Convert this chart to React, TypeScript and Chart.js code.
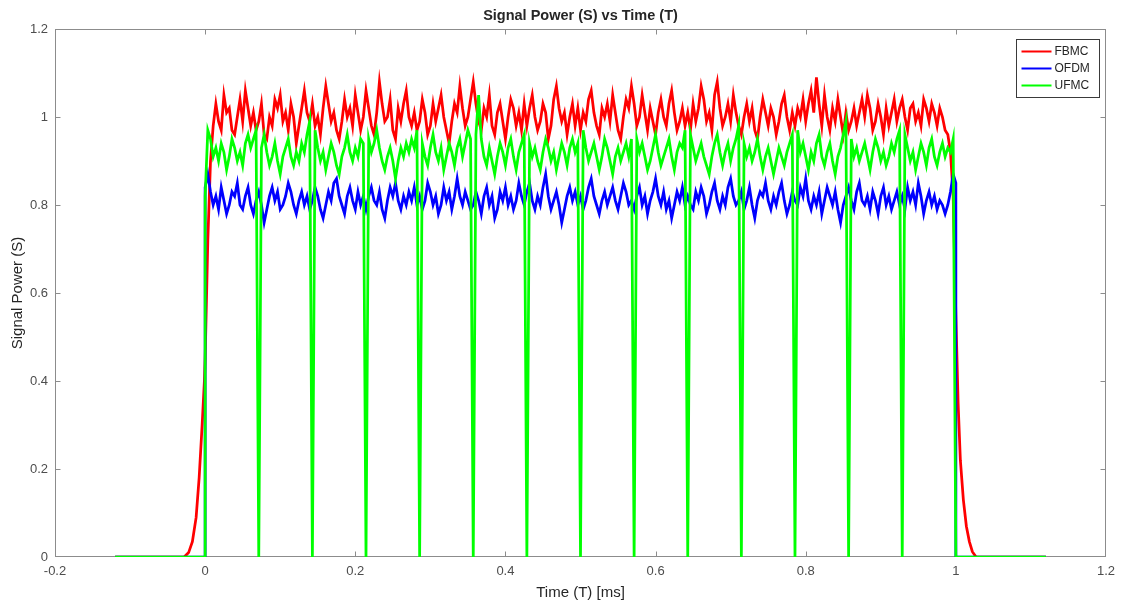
import React, { useEffect, useRef } from "react";
import { Chart, registerables } from "chart.js";

Chart.register(...registerables);

// ---------- text ----------
const chartTitle = "Signal Power (S) vs Time (T)";
const xAxisTitle = "Time (T) [ms]";
const yAxisTitle = "Signal Power (S)";
const seriesNames = ["FBMC", "OFDM", "UFMC"];
const seriesColors = ["#ff0000", "#0000ff", "#00ff00"];

// ---------- axes ----------
const xTickMin = -0.2;
const xTickMax = 1.2;
const xTickStep = 0.2;
const yTickMin = 0;
const yTickMax = 1.2;
const yTickStep = 0.2;

// ---------- sampling of the frame (0 .. 1 ms) ----------
const symbolsPerFrame = 14;
const samplesPerSymbol = 20;

// ---------- FBMC ----------
const fbmcLeadTime = [-0.12, -0.028, -0.022, -0.017, -0.012, -0.008, -0.004, -0.001];
const fbmcLeadPower = [0, 0, 0.01, 0.035, 0.09, 0.18, 0.3, 0.4];
const fbmcPower = [
  0.45, 0.72, 0.9, 0.98, 1.03, 0.99, 0.97, 1.05, 1.01, 1.02, 0.97, 0.96, 1.0, 1.04, 0.99, 1.06, 1.02, 0.98, 1.01, 0.97,
  0.99, 1.03, 0.96, 0.95, 1.0, 0.98, 1.04, 1.02, 1.05, 0.99, 1.01, 0.97, 1.03, 1.0, 0.94, 0.98, 1.02, 1.06, 1.01, 0.99,
  1.03, 0.98, 1.0, 0.96, 1.02, 1.07, 1.03, 0.99, 1.01, 0.97, 0.95, 0.99, 1.04, 1.0, 1.02, 0.98, 1.05, 1.01, 0.97, 1.0,
  1.06, 1.02, 0.98, 0.96, 1.01, 1.08, 1.03, 0.99, 1.0, 1.04, 0.97, 0.95, 1.02, 0.99, 1.03, 1.06, 1.0, 0.98, 1.01, 0.97,
  0.99, 1.04, 1.01, 0.96, 0.98, 1.03, 0.99, 1.02, 1.05, 1.0, 0.97, 0.94, 0.99, 1.03, 1.01, 1.07, 1.02, 0.98, 1.0, 1.04,
  1.08, 1.03, 0.99, 0.97, 1.02, 1.0, 1.05, 0.98, 0.96, 1.01, 1.03, 0.99, 0.95, 1.0, 1.04, 1.02, 0.98, 1.01, 0.97, 1.03,
  0.98, 1.02, 1.05, 1.0, 0.97, 0.99, 1.03, 1.01, 0.95, 0.98, 1.04, 1.07, 1.02, 0.99, 1.01, 0.96, 1.0, 1.03, 0.98, 1.02,
  0.97, 1.01, 0.99, 1.04, 1.06, 1.01, 0.98, 0.96, 1.02, 1.0, 1.03, 0.99, 1.05, 1.01, 0.97, 0.95, 1.0, 1.04, 1.02, 1.07,
  1.03, 0.98, 1.0, 1.05, 1.01, 0.97, 1.02, 0.99, 0.96, 1.01, 1.04, 1.0, 0.98, 1.03, 1.06, 1.01, 0.97, 0.99, 1.02, 0.98,
  1.01, 0.97, 1.03, 0.99, 1.02, 1.07, 1.04, 0.99, 1.01, 0.97, 1.05, 1.08, 1.02, 0.98, 1.0, 1.03, 0.99, 1.05, 1.01, 0.98,
  0.96, 1.0, 1.03, 0.99, 1.02, 0.97, 0.95, 1.0, 1.04, 1.01, 0.98, 1.02, 1.0, 0.96, 0.99, 1.03, 1.05, 1.0, 0.97, 1.01,
  0.98, 1.02, 1.0, 1.04, 0.99, 1.03, 1.06, 1.01, 1.09, 1.03, 0.98, 1.05, 1.0, 0.97, 1.02, 0.99, 1.04, 1.0, 0.96, 1.01,
  0.97, 0.99, 1.02, 0.98, 1.01, 1.04, 1.0, 1.05, 1.02, 0.97, 0.99, 1.03, 1.0, 0.96, 1.02, 0.98, 1.01, 1.04, 0.99, 1.02,
  1.04, 1.0, 0.97, 1.02, 1.03, 0.99, 1.01, 0.98, 1.04, 1.02, 0.99, 1.03, 1.01, 0.98, 1.02, 1.0, 0.97, 0.96, 0.92, 0.82,
  0.55,
];
const fbmcTailTime = [1.003, 1.006, 1.01, 1.014, 1.018, 1.022, 1.027, 1.12];
const fbmcTailPower = [0.35, 0.22, 0.13, 0.07, 0.035, 0.012, 0, 0];

// ---------- OFDM ----------
const ofdmLeadTime = [-0.12, 0];
const ofdmLeadPower = [0, 0];
const ofdmPower = [
  0.84, 0.87, 0.83, 0.8, 0.82, 0.79, 0.84, 0.81, 0.78, 0.8, 0.83, 0.82, 0.85, 0.8, 0.79, 0.82, 0.84, 0.8, 0.78, 0.81,
  0.83, 0.8, 0.76, 0.79, 0.82, 0.84, 0.81, 0.83, 0.79, 0.8, 0.82, 0.85, 0.83, 0.8, 0.78, 0.81, 0.83, 0.8, 0.82, 0.79,
  0.81, 0.84, 0.82, 0.79, 0.77, 0.8, 0.83, 0.81, 0.85, 0.86, 0.82, 0.8, 0.78, 0.82, 0.84, 0.81, 0.79, 0.83, 0.8, 0.82,
  0.79, 0.82, 0.84, 0.81, 0.8, 0.83, 0.79, 0.77, 0.81, 0.84, 0.82, 0.85, 0.81, 0.79, 0.82, 0.8, 0.83, 0.81, 0.84, 0.8,
  0.82, 0.79, 0.81, 0.85, 0.83, 0.8, 0.82, 0.78, 0.8, 0.84, 0.81, 0.83, 0.79, 0.82, 0.86, 0.82, 0.8, 0.83, 0.81, 0.79,
  0.8, 0.83, 0.81, 0.78, 0.82, 0.84, 0.8, 0.82, 0.77, 0.79, 0.83, 0.81, 0.84, 0.8, 0.82, 0.79, 0.81, 0.85, 0.82, 0.8,
  0.83, 0.85, 0.81, 0.79, 0.82, 0.8, 0.84, 0.87, 0.82, 0.79, 0.81, 0.83, 0.8, 0.76, 0.79, 0.82, 0.84, 0.81, 0.83, 0.8,
  0.82, 0.79, 0.81, 0.84, 0.86, 0.82, 0.8, 0.78, 0.81, 0.83, 0.8, 0.82, 0.84, 0.81, 0.79, 0.82, 0.85, 0.83, 0.8, 0.81,
  0.79, 0.82, 0.84, 0.8, 0.82, 0.78, 0.81, 0.83, 0.86, 0.82, 0.8, 0.83, 0.79, 0.81, 0.77, 0.8, 0.83, 0.81, 0.84, 0.8,
  0.82, 0.8, 0.79, 0.83, 0.81, 0.84, 0.82, 0.78, 0.8, 0.83, 0.85, 0.81, 0.79, 0.82, 0.8, 0.84, 0.86, 0.82, 0.8, 0.81,
  0.83, 0.79, 0.81, 0.84, 0.8, 0.77, 0.81, 0.83, 0.82, 0.85, 0.81, 0.79, 0.82, 0.8, 0.83, 0.85, 0.81, 0.78, 0.8, 0.83,
  0.81, 0.8, 0.84, 0.82, 0.86, 0.81, 0.79, 0.82, 0.8, 0.83, 0.78, 0.81, 0.84, 0.82, 0.8, 0.83, 0.79, 0.76, 0.8, 0.82,
  0.84, 0.81, 0.79, 0.83, 0.85, 0.81, 0.8, 0.82, 0.79, 0.83, 0.81, 0.78, 0.82, 0.84, 0.8, 0.82, 0.79, 0.81, 0.83, 0.8,
  0.82, 0.79, 0.84, 0.81, 0.83, 0.8, 0.85, 0.82, 0.78, 0.81, 0.83, 0.8, 0.82, 0.79, 0.81, 0.8, 0.78, 0.8, 0.83, 0.87,
  0.85,
];
const ofdmTailTime = [1.0, 1.12];
const ofdmTailPower = [0, 0];

// ---------- UFMC ----------
const ufmcLeadTime = [-0.12, 0];
const ufmcLeadPower = [0, 0];
const ufmcPower = [
  0.82, 0.97, 0.95, 0.91, 0.93, 0.9, 0.94, 0.92, 0.88, 0.91, 0.95, 0.93, 0.9, 0.92, 0.89, 0.94, 0.96, 0.93, 0.95, 0.97,
  0.0, 0.93, 0.96, 0.92, 0.89, 0.91, 0.94, 0.9, 0.87, 0.91, 0.93, 0.95, 0.91, 0.89, 0.92, 0.9, 0.94, 0.92, 0.96, 0.99,
  0.0, 0.97, 0.93, 0.9, 0.92, 0.88, 0.91, 0.94, 0.92, 0.89, 0.87, 0.91, 0.93, 0.96, 0.92, 0.9, 0.93, 0.91, 0.95, 0.94,
  0.0, 0.95, 0.92, 0.94, 0.97, 0.93, 0.9, 0.88, 0.91, 0.93, 0.9, 0.86, 0.9, 0.93, 0.91, 0.94, 0.92, 0.95, 0.93, 0.97,
  0.0, 0.94, 0.91, 0.89, 0.93, 0.96, 0.92, 0.9, 0.93, 0.88, 0.91, 0.94, 0.92, 0.89, 0.93, 0.95, 0.91, 0.94, 0.97, 0.95,
  0.0, 0.96, 1.05, 0.95, 0.91, 0.89, 0.93, 0.9, 0.87, 0.91, 0.94, 0.92, 0.89, 0.93, 0.95, 0.91, 0.88, 0.92, 0.94, 0.96,
  0.0, 0.94, 0.91, 0.93, 0.9, 0.88, 0.92, 0.95, 0.93, 0.9, 0.92, 0.88, 0.91, 0.94, 0.92, 0.89, 0.93, 0.95, 0.92, 0.94,
  0.0, 0.97, 0.93, 0.9, 0.92, 0.94, 0.91, 0.88, 0.91, 0.95, 0.93, 0.9, 0.87, 0.91, 0.93, 0.9, 0.92, 0.94, 0.91, 0.95,
  0.0, 0.95, 0.92, 0.94, 0.91, 0.88, 0.9, 0.93, 0.96, 0.92, 0.89, 0.91, 0.93, 0.95, 0.91, 0.88, 0.92, 0.94, 0.93, 0.97,
  0.0, 0.96, 0.93, 0.9, 0.92, 0.94, 0.91, 0.89, 0.87, 0.91, 0.94, 0.96, 0.92, 0.89, 0.92, 0.94, 0.9, 0.93, 0.95, 0.98,
  0.0, 0.94, 0.91, 0.93, 0.9, 0.92, 0.95, 0.91, 0.88, 0.91, 0.93, 0.9, 0.87, 0.9, 0.93, 0.91, 0.89, 0.92, 0.94, 0.96,
  0.0, 0.97, 0.92, 0.94, 0.91, 0.88, 0.92, 0.9, 0.94, 0.96, 0.91, 0.89, 0.92, 0.94, 0.9, 0.87, 0.91, 0.93, 0.96, 0.99,
  0.0, 0.95, 0.91, 0.93, 0.9, 0.92, 0.94, 0.91, 0.88, 0.92, 0.95, 0.93, 0.9, 0.92, 0.89, 0.91, 0.94, 0.92, 0.95, 0.97,
  0.0, 0.96, 0.93, 0.9, 0.92, 0.88, 0.91, 0.94, 0.92, 0.89, 0.93, 0.95, 0.91, 0.89, 0.92, 0.94, 0.91, 0.93, 0.92, 0.95,
  0.0,
];
const ufmcTailTime = [1.12];
const ufmcTailPower = [0];

// ---------- styling ----------
const fontFamily = "'Liberation Sans', Arial, Helvetica, sans-serif";
const axisColor = "#8c8c8c";
const tickLabelColor = "#4d4d4d";
const titleColor = "#262626";

function buildSeries(
  leadTime: number[],
  leadPower: number[],
  corePower: number[],
  tailTime: number[],
  tailPower: number[]
) {
  const samples = symbolsPerFrame * samplesPerSymbol;
  return [
    ...leadTime.map((t, i) => ({ x: t, y: leadPower[i] })),
    ...corePower.map((p, i) => ({ x: i / samples, y: p })),
    ...tailTime.map((t, i) => ({ x: t, y: tailPower[i] })),
  ];
}

function formatTick(v: number | string) {
  const n = Number(Number(v).toFixed(1));
  return n === 0 ? "0" : String(n);
}

const frameTicksPlugin = {
  id: "frameTicks",
  beforeDatasetsDraw(chart: any) {
    const { ctx, chartArea } = chart;
    const xs = chart.scales.x;
    const ys = chart.scales.y;
    const left = Math.round(chartArea.left) + 0.5;
    const right = Math.round(chartArea.right) - 0.5;
    const top = Math.round(chartArea.top) + 0.5;
    const bottom = Math.round(chartArea.bottom) - 0.5;
    ctx.save();
    ctx.strokeStyle = axisColor;
    ctx.lineWidth = 1;
    ctx.strokeRect(left, top, right - left, bottom - top);
    const len = 5;
    ctx.beginPath();
    xs.ticks.forEach((tk: any) => {
      const px = Math.round(xs.getPixelForValue(tk.value)) + 0.5;
      if (px <= left + 1 || px >= right - 1) return;
      ctx.moveTo(px, bottom);
      ctx.lineTo(px, bottom - len);
      ctx.moveTo(px, top);
      ctx.lineTo(px, top + len);
    });
    ys.ticks.forEach((tk: any) => {
      const py = Math.round(ys.getPixelForValue(tk.value)) + 0.5;
      if (py <= top + 1 || py >= bottom - 1) return;
      ctx.moveTo(left, py);
      ctx.lineTo(left + len, py);
      ctx.moveTo(right, py);
      ctx.lineTo(right - len, py);
    });
    ctx.stroke();
    ctx.restore();
  },
};

const boxLegendPlugin = {
  id: "boxLegend",
  afterDraw(chart: any) {
    const { ctx, chartArea } = chart;
    const w = 83;
    const h = 58;
    const bx = Math.round(chartArea.right) - 7 - w + 0.5;
    const by = Math.round(chartArea.top) + 10 + 0.5;
    ctx.save();
    ctx.fillStyle = "#ffffff";
    ctx.fillRect(bx, by, w, h);
    ctx.strokeStyle = "#3a3a3a";
    ctx.lineWidth = 1;
    ctx.strokeRect(bx, by, w, h);
    ctx.font = `12px ${fontFamily}`;
    ctx.textBaseline = "middle";
    ctx.textAlign = "left";
    chart.data.datasets.forEach((ds: any, i: number) => {
      const cy = by + 12 + i * 17;
      ctx.strokeStyle = ds.borderColor;
      ctx.lineWidth = 2;
      ctx.beginPath();
      ctx.moveTo(bx + 5, cy);
      ctx.lineTo(bx + 35, cy);
      ctx.stroke();
      ctx.fillStyle = "#262626";
      ctx.fillText(ds.label, bx + 38, cy + 0.5);
    });
    ctx.restore();
  },
};

export default function App() {
  const canvasRef = useRef<HTMLCanvasElement | null>(null);

  useEffect(() => {
    if (!canvasRef.current) return;
    const seriesData = [
      buildSeries(fbmcLeadTime, fbmcLeadPower, fbmcPower, fbmcTailTime, fbmcTailPower),
      buildSeries(ofdmLeadTime, ofdmLeadPower, ofdmPower, ofdmTailTime, ofdmTailPower),
      buildSeries(ufmcLeadTime, ufmcLeadPower, ufmcPower, ufmcTailTime, ufmcTailPower),
    ];
    // later MATLAB series sit on top: lower order is drawn last in Chart.js
    const orders = [2, 1, 0];
    const chart = new Chart(canvasRef.current, {
      type: "line",
      data: {
        datasets: seriesNames.map((name, i) => ({
          label: name,
          data: seriesData[i],
          borderColor: seriesColors[i],
          backgroundColor: seriesColors[i],
          borderWidth: 2.75,
          pointRadius: 0,
          tension: 0,
          fill: false,
          order: orders[i],
        })),
      },
      options: {
        responsive: false,
        animation: false,
        layout: { padding: { left: 0, right: 19, top: 0, bottom: 0 } },
        plugins: {
          legend: { display: false },
          tooltip: { enabled: false },
          title: {
            display: true,
            text: chartTitle,
            fullSize: false,
            color: titleColor,
            font: { family: fontFamily, size: 14.5, weight: "bold" },
            padding: { top: 7, bottom: 4.6 },
          },
        },
        scales: {
          x: {
            type: "linear",
            min: xTickMin,
            max: xTickMax,
            ticks: {
              stepSize: xTickStep,
              color: tickLabelColor,
              font: { family: fontFamily, size: 13 },
              padding: 7,
              maxRotation: 0,
              callback: (v: any) => formatTick(v),
            },
            grid: { display: false, drawTicks: false },
            border: { display: false },
            title: {
              display: true,
              text: xAxisTitle,
              color: titleColor,
              font: { family: fontFamily, size: 15 },
              padding: { top: 0, bottom: 4 },
            },
            afterFit: (scale: any) => {
              scale.height = 49;
              scale.paddingLeft = 0;
              scale.paddingRight = 0;
            },
          },
          y: {
            type: "linear",
            min: yTickMin,
            max: yTickMax,
            ticks: {
              stepSize: yTickStep,
              color: tickLabelColor,
              font: { family: fontFamily, size: 13 },
              padding: 7,
              callback: (v: any) => formatTick(v),
            },
            grid: { display: false, drawTicks: false },
            border: { display: false },
            title: {
              display: true,
              text: yAxisTitle,
              color: titleColor,
              font: { family: fontFamily, size: 15 },
              padding: { top: 9, bottom: 0 },
            },
            afterFit: (scale: any) => {
              scale.width = 55;
              scale.paddingTop = 0;
              scale.paddingBottom = 0;
            },
          },
        },
      },
      plugins: [frameTicksPlugin, boxLegendPlugin],
    });
    return () => chart.destroy();
  }, []);

  return (
    <div style={{ position: "fixed", left: 0, top: 0, width: 1125, height: 606, background: "#ffffff" }}>
      <canvas ref={canvasRef} width={1125} height={606} style={{ display: "block" }} />
    </div>
  );
}
